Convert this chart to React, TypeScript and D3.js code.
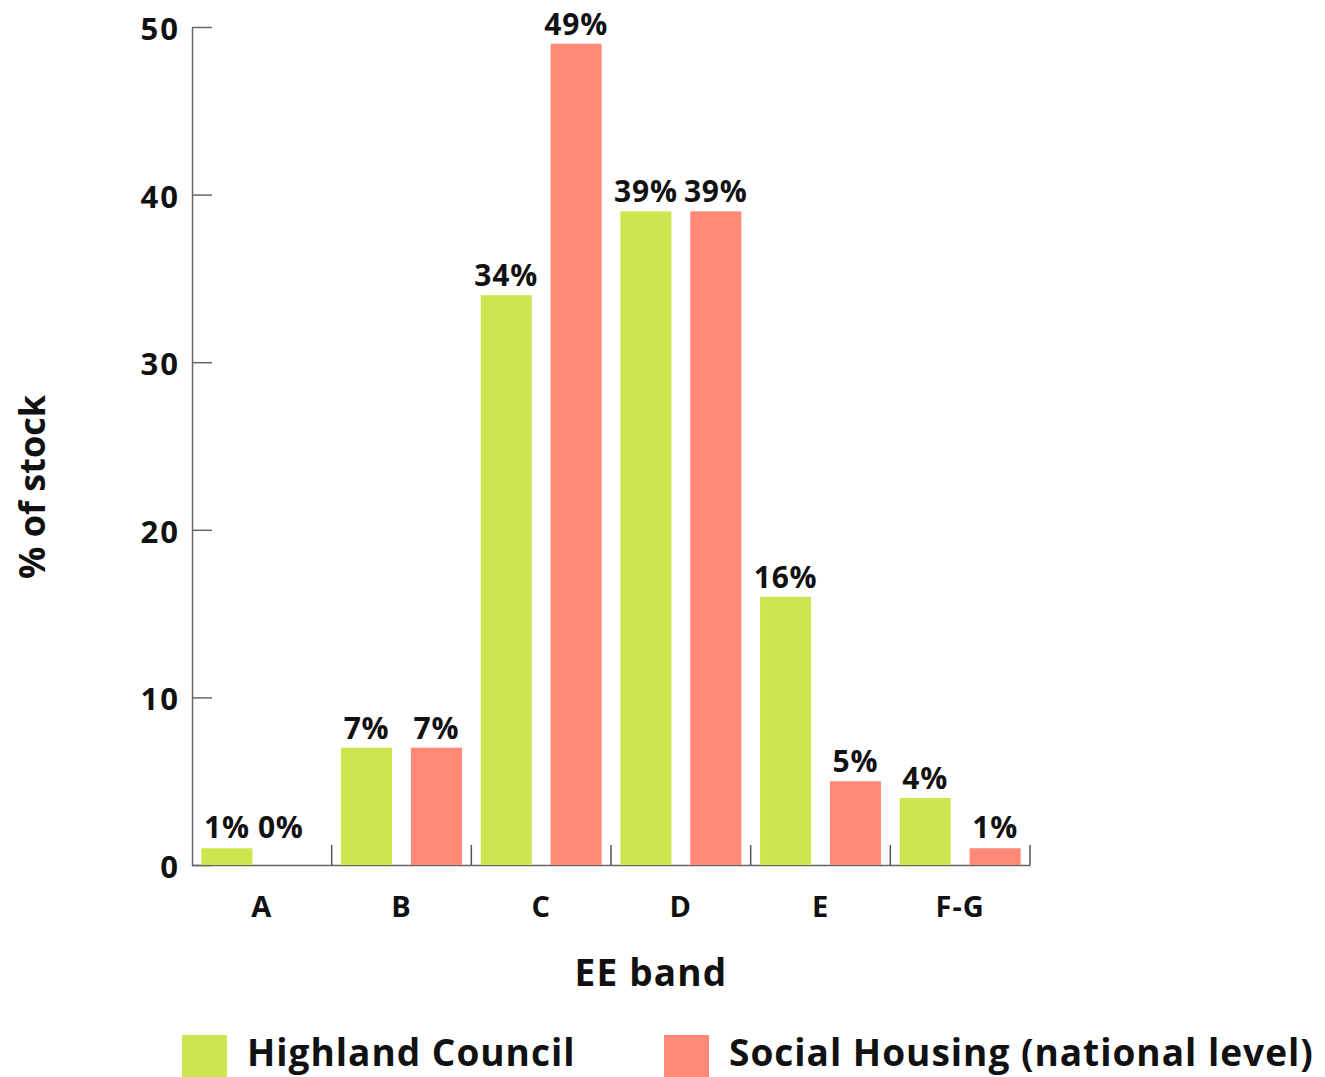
import React, { useRef, useEffect } from 'react';
import * as d3 from 'd3';

const bands = ['A', 'B', 'C', 'D', 'E', 'F-G'];
const seriesNames = ['Highland Council', 'Social Housing (national level)'];
const highland = [1, 7, 34, 39, 16, 4];
const socialHousing = [0, 7, 49, 39, 5, 1];
const yTicks = [0, 10, 20, 30, 40, 50];

const colors = ['#cde650', '#ff8877'];
const FONT = '"Open Sans", "Noto Sans", sans-serif';

const App: React.FC = () => {
  const svgRef = useRef<SVGSVGElement | null>(null);
  const width = 1325;
  const height = 1077;

  useEffect(() => {
    if (!svgRef.current) return;
    const svg = d3.select(svgRef.current);
    svg.selectAll('*').remove();

    const margin = { left: 192, right: 295, top: 27, bottom: 212 };
    const innerW = width - margin.left - margin.right;
    const innerH = height - margin.top - margin.bottom;

    const g = svg.append('g').attr('transform', `translate(${margin.left},${margin.top})`);

    const x0 = d3.scaleBand().domain(bands).range([0, innerW]).padding(0);
    const x1 = d3
      .scaleBand()
      .domain(seriesNames)
      .range([0, x0.bandwidth()])
      .paddingInner(0.27)
      .paddingOuter(0.134);
    const y = d3.scaleLinear().domain([0, 50]).range([innerH, 0]);

    // y axis, ticks pointing inward
    const yAxis = g
      .append('g')
      .call(d3.axisLeft(y).tickValues(yTicks).tickSizeInner(-20).tickSizeOuter(0).tickPadding(12));
    yAxis.select('.domain').attr('stroke', '#666').attr('stroke-width', 1.5);
    yAxis.selectAll('.tick line').attr('stroke', '#666').attr('stroke-width', 1.5);
    yAxis
      .selectAll('.tick text')
      .attr('font-family', FONT)
      .attr('font-weight', 700)
      .attr('font-size', 31)
      .attr('letter-spacing', 2)
      .attr('dy', '0.4em')
      .attr('fill', '#111');

    // x axis baseline and category boundary ticks
    const xAxis = g
      .append('g')
      .attr('transform', `translate(0,${innerH})`)
      .call(d3.axisBottom(x0).tickSize(0).tickPadding(31));
    xAxis.select('.domain').attr('stroke', '#666').attr('stroke-width', 1.5);
    xAxis
      .selectAll('.tick text')
      .attr('font-family', FONT)
      .attr('font-weight', 700)
      .attr('font-size', 29)
      .attr('letter-spacing', 1)
      .attr('fill', '#111');

    const boundaries = bands.map(b => x0(b) as number).concat([innerW]).slice(1);
    g.selectAll('.bnd')
      .data(boundaries)
      .enter()
      .append('line')
      .attr('x1', d => d)
      .attr('x2', d => d)
      .attr('y1', innerH - 20)
      .attr('y2', innerH)
      .attr('stroke', '#555')
      .attr('stroke-width', 1.5);

    const rows = bands.flatMap((b, i) => [
      { band: b, series: seriesNames[0], value: highland[i], color: colors[0] },
      { band: b, series: seriesNames[1], value: socialHousing[i], color: colors[1] },
    ]);

    g.selectAll('.bar')
      .data(rows)
      .enter()
      .append('rect')
      .attr('x', d => (x0(d.band) as number) + (x1(d.series) as number))
      .attr('y', d => y(d.value))
      .attr('width', x1.bandwidth())
      .attr('height', d => innerH - y(d.value))
      .attr('fill', d => d.color);

    g.selectAll('.val')
      .data(rows)
      .enter()
      .append('text')
      .attr('x', d => (x0(d.band) as number) + (x1(d.series) as number) + x1.bandwidth() / 2 - (d.value === 0 ? 16 : 0))
      .attr('y', d => Math.min(y(d.value), innerH - 18) - 9)
      .attr('text-anchor', 'middle')
      .attr('font-family', FONT)
      .attr('font-weight', 700)
      .attr('font-size', 30)
      .attr('letter-spacing', 0.8)
      .attr('fill', '#111')
      .text(d => `${d.value}%`);

    // axis titles
    svg
      .append('text')
      .attr('x', 651)
      .attr('y', 986)
      .attr('text-anchor', 'middle')
      .attr('font-family', FONT)
      .attr('font-weight', 700)
      .attr('font-size', 37)
      .attr('letter-spacing', 1.2)
      .attr('fill', '#111')
      .text('EE band');

    svg
      .append('text')
      .attr('transform', 'translate(45,487) rotate(-90)')
      .attr('text-anchor', 'middle')
      .attr('font-family', FONT)
      .attr('font-weight', 700)
      .attr('font-size', 36)
      .attr('fill', '#111')
      .text('% of stock');

    // legend
    const legendX = [182, 664];
    const legend = svg
      .selectAll('.leg')
      .data(seriesNames)
      .enter()
      .append('g')
      .attr('transform', (d, i) => `translate(${legendX[i]},1035)`);
    legend
      .append('rect')
      .attr('width', 45)
      .attr('height', 42)
      .attr('fill', (d, i) => colors[i]);
    legend
      .append('text')
      .attr('x', 65)
      .attr('y', 31)
      .attr('font-family', FONT)
      .attr('font-weight', 700)
      .attr('font-size', 37)
      .attr('letter-spacing', 1)
      .attr('fill', '#111')
      .text(d => d);
  }, []);

  return (
    <div style={{ position: 'absolute', left: 0, top: 0 }}>
      <svg ref={svgRef} width={width} height={height} style={{ display: 'block', background: '#fff' }}></svg>
    </div>
  );
};

export default App;
